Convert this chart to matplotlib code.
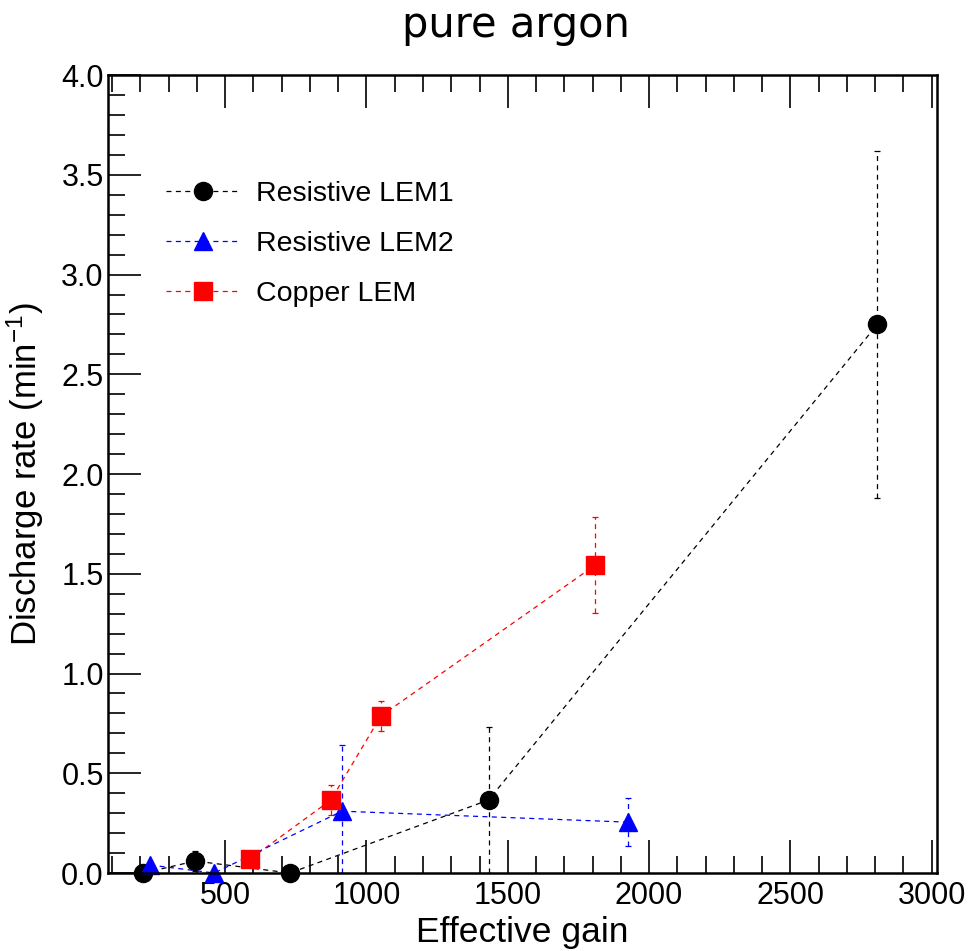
import numpy as np
import matplotlib.pyplot as plt
from matplotlib.ticker import MultipleLocator, FormatStrFormatter

# discharge rate vs effective gain, pure argon
lem1_gain = [210, 394, 729, 1432, 2808]
lem1_rate = [0.0, 0.06, 0.0, 0.366, 2.75]
lem1_err = [0.0, 0.05, 0.0, 0.365, 0.87]

lem2_gain = [235, 461, 913, 1926]
lem2_rate = [0.04, 0.0, 0.31, 0.255]
lem2_err = [0.0, 0.0, 0.33, 0.12]

cu_gain = [588, 874, 1051, 1810]
cu_rate = [0.07, 0.366, 0.787, 1.544]
cu_err = [0.0, 0.075, 0.073, 0.24]

labels = ['Resistive LEM1', 'Resistive LEM2', 'Copper LEM']

plt.rcParams['font.family'] = ['Liberation Sans', 'DejaVu Sans']
plt.rcParams['mathtext.default'] = 'regular'

fig = plt.figure(figsize=(9.71, 9.51), dpi=100)
ax = fig.add_axes([0.1112, 0.082, 0.854, 0.839])

dash = (0, (4, 3.5))
series = [
    (lem1_gain, lem1_rate, lem1_err, 'black', 'o'),
    (lem2_gain, lem2_rate, lem2_err, 'blue', '^'),
    (cu_gain, cu_rate, cu_err, 'red', 's'),
]
handles = []
for (x, y, e, c, m), lab in zip(series, labels):
    y = np.array(y)
    e = np.array(e)
    # lower bars stop at zero rate
    yerr = [np.minimum(e, y), e]
    eb = ax.errorbar(x, y, yerr=yerr, color=c, marker=m, markersize=13,
                     linestyle=dash, linewidth=0.9, elinewidth=0.9,
                     capsize=2, capthick=0.9, label=lab)
    for col in eb[2]:
        col.set_linestyle(dash)
    eb[0].set_clip_on(False)
    handles.append(eb[0])

ax.set_xlim(85, 3020)
ax.set_ylim(0, 4.0)

ax.xaxis.set_major_locator(MultipleLocator(500))
ax.xaxis.set_minor_locator(MultipleLocator(100))
ax.yaxis.set_major_locator(MultipleLocator(0.5))
ax.yaxis.set_minor_locator(MultipleLocator(0.1))
ax.yaxis.set_major_formatter(FormatStrFormatter('%.1f'))

ax.tick_params(which='both', direction='in', top=True, right=False,
               labelsize=22, width=1.2)
ax.tick_params(axis='y', pad=3)
ax.tick_params(axis='x', pad=6)
ax.tick_params(which='major', length=24)
ax.tick_params(which='minor', length=12)
for s in ax.spines.values():
    s.set_linewidth(1.8)

ax.set_xlabel('Effective gain', fontsize=25.5, labelpad=3)
ax.set_ylabel('Discharge rate (min$^{-1}$)', fontsize=25, labelpad=11)

fig.text(0.531, 0.974, 'pure argon', fontsize=30, family='DejaVu Sans',
         ha='center', va='center')

ax.legend(handles, labels, loc='upper left',
          bbox_to_anchor=(152 / 971, 1 - 167 / 951),
          bbox_transform=fig.transFigure, frameon=False, fontsize=20.5,
          handlelength=2.56, handletextpad=0.6, labelspacing=0.84,
          borderpad=0, numpoints=1)

fig.savefig('out.png', dpi=100)
